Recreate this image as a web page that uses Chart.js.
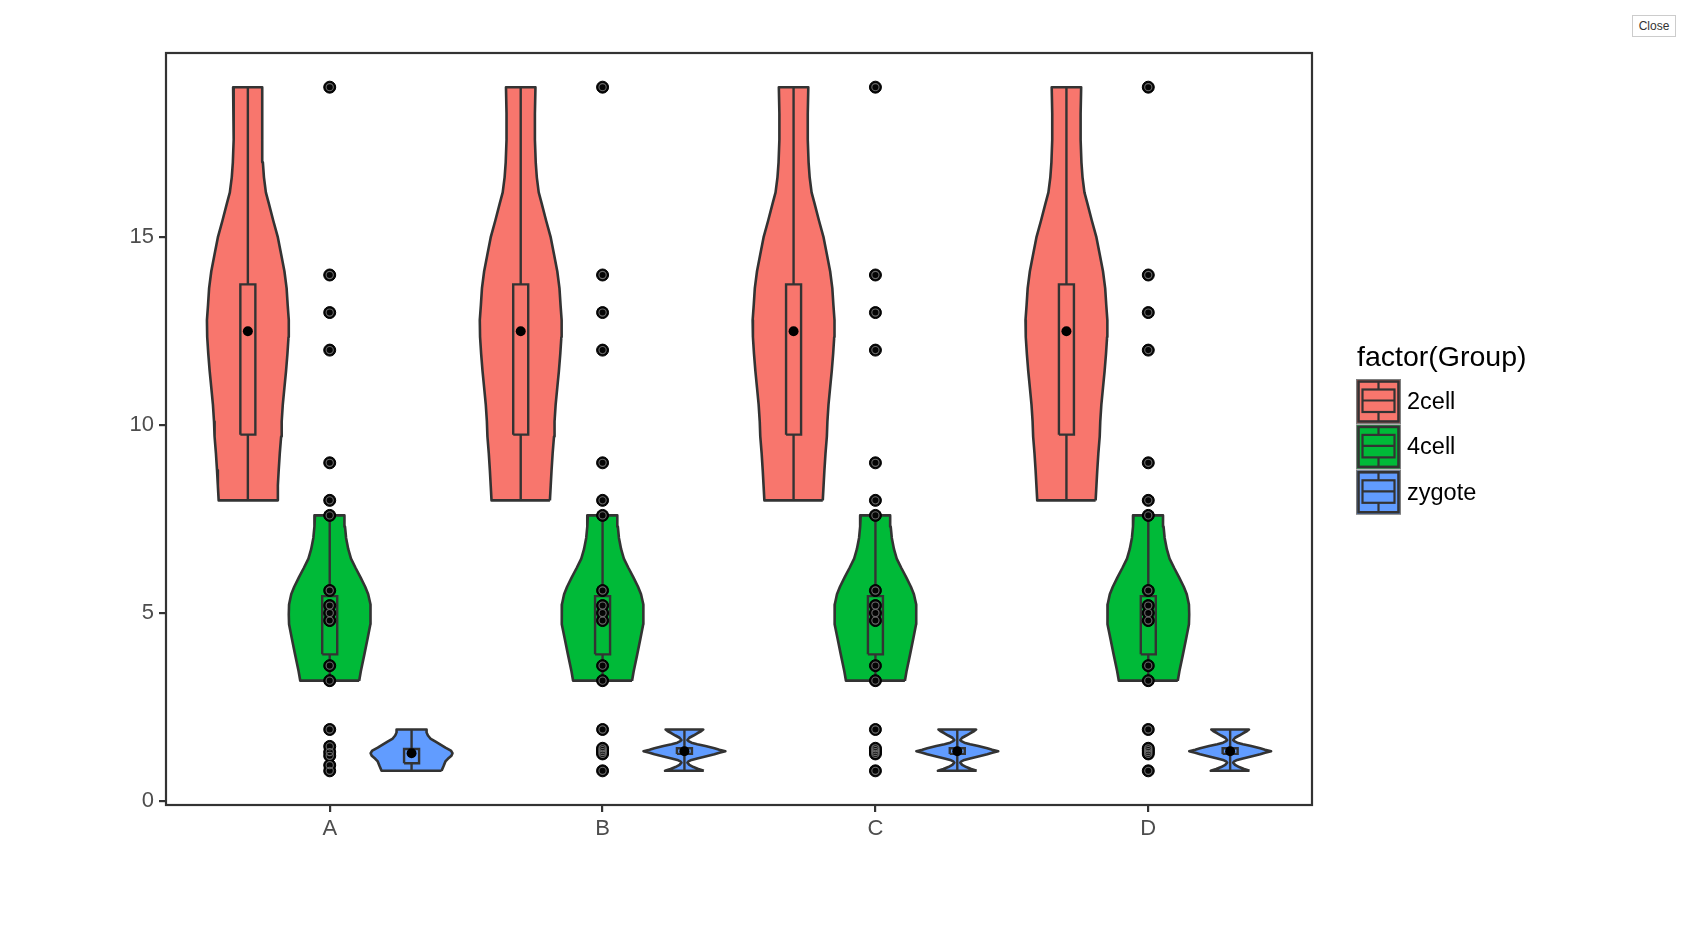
<!DOCTYPE html>
<html>
<head>
<meta charset="utf-8">
<title>factor(Group) violins</title>
<script src="https://cdn.jsdelivr.net/npm/chart.js@4.4.1/dist/chart.umd.min.js"></script>
<style>
  html, body { margin: 0; padding: 0; background: #fff; }
  #wrap { position: relative; width: 1691px; height: 948px; }
  #closeBtn {
    position: absolute; left: 1632px; top: 15px; width: 44px; height: 22px;
    font: 12px "Liberation Sans", Arial, sans-serif; color: #333;
    background: #fff; border: 1px solid #ccc; padding: 0;
  }
</style>
</head>
<body>
<div id="wrap">
  <canvas id="violin" width="1691" height="948"></canvas>
  <button id="closeBtn">Close</button>
</div>
<script>
const categories = ["A", "B", "C", "D"];
const groups = ["2cell", "4cell", "zygote"];
const groupColors = ["#F8766D", "#00BA38", "#619CFF"];
const groupOffsets = [-0.3, 0, 0.3];
const yTicks = [0, 5, 10, 15];

// raw observations (same for every category, except zygote at A)
const cell2Values = [8, 9, 12, 13, 14, 19];
const cell4Values = [3.2, 3.6, 4.8, 5.0, 5.2, 5.6, 7.6];
const zygoteValuesA = [0.8, 0.95, 1.2, 1.3, 1.45, 1.9];
const zygoteValuesBCD = [0.8, 1.25, 1.3, 1.35, 1.4, 1.9];

// violin outlines: y level -> half width (x units)
const cell2Levels = [8.0, 8.4, 8.8, 9.25, 9.7, 10.1, 10.55, 11.0, 11.45, 11.9, 12.35, 12.8, 13.2,
  13.65, 14.1, 14.55, 15.0, 15.45, 15.9, 16.2, 16.6, 17.0, 17.6, 18.3, 19.0];
const cell2Half = [0.107, 0.110, 0.113, 0.117, 0.122, 0.124, 0.128, 0.134, 0.140, 0.145, 0.149, 0.150, 0.146,
  0.142, 0.134, 0.122, 0.110, 0.093, 0.077, 0.066, 0.059, 0.055, 0.052, 0.052, 0.054];

const cell4Levels = [3.2, 3.45, 3.9, 4.33, 4.7, 4.96, 5.23, 5.5, 5.7, 5.95, 6.2, 6.45, 6.7, 7.0, 7.3, 7.6];
const cell4Half = [0.108, 0.114, 0.127, 0.139, 0.149, 0.150, 0.149, 0.141, 0.130, 0.113, 0.095, 0.078,
  0.068, 0.060, 0.056, 0.054];

const zygoteLevelsA = [0.8, 0.92, 1.05, 1.12, 1.2, 1.27, 1.34, 1.42, 1.5, 1.58, 1.66, 1.74, 1.82, 1.9];
const zygoteHalfA = [0.110, 0.117, 0.124, 0.133, 0.146, 0.150, 0.144, 0.124, 0.106, 0.088, 0.069, 0.060,
  0.055, 0.055];

const zygoteLevelsBCD = [0.8, 0.85, 0.9, 0.96, 1.02, 1.05, 1.09, 1.13, 1.18, 1.24, 1.28, 1.32, 1.36, 1.4,
  1.46, 1.51, 1.55, 1.59, 1.62, 1.68, 1.74, 1.8, 1.86, 1.9];
const zygoteHalfBCD = [0.071, 0.051, 0.033, 0.018, 0.011, 0.015, 0.026, 0.047, 0.077, 0.110, 0.128, 0.150,
  0.128, 0.110, 0.077, 0.047, 0.026, 0.015, 0.011, 0.018, 0.033, 0.047, 0.062, 0.069];

// box stats: [whisker low, q1, median, q3, whisker high, mean]
const cell2Box = [8, 9.75, 12.5, 13.75, 19, 12.5];
const cell4Box = [3.2, 3.9, 5.0, 5.45, 7.6, 5.0];
const zygoteBoxA = [0.8, 1.0, 1.25, 1.38, 1.9, 1.27];
const zygoteBoxBCD = [0.8, 1.25, 1.32, 1.4, 1.9, 1.32];

const boxHalf = 0.0275;
const outlineColor = "#333333";

function groupData(g, i) {
  if (g === 0) return { values: cell2Values, levels: cell2Levels, half: cell2Half, box: cell2Box };
  if (g === 1) return { values: cell4Values, levels: cell4Levels, half: cell4Half, box: cell4Box };
  if (i === 0) return { values: zygoteValuesA, levels: zygoteLevelsA, half: zygoteHalfA, box: zygoteBoxA };
  return { values: zygoteValuesBCD, levels: zygoteLevelsBCD, half: zygoteHalfBCD, box: zygoteBoxBCD };
}

function outline(center, levels, half) {
  const right = levels.map((y, k) => ({ x: center + half[k], y: y }));
  const left = levels.map((y, k) => ({ x: center - half[k], y: y })).reverse();
  return right.concat(left, [right[0]]);
}

const datasets = [];
const rawPoints = [];
const meanPoints = [];

categories.forEach((cat, i) => {
  groups.forEach((grp, g) => {
    const d = groupData(g, i);
    const c = i + 1 + groupOffsets[g];
    const [lo, q1, med, q3, hi, mean] = d.box;

    datasets.push({
      label: cat + " " + grp + " violin",
      showLine: true,
      data: outline(c, d.levels, d.half),
      fill: "shape",
      backgroundColor: groupColors[g],
      borderColor: outlineColor,
      borderWidth: 2.6,
      borderJoinStyle: "round",
      tension: 0,
      pointRadius: 0,
      order: 5
    });
    datasets.push({
      label: cat + " " + grp + " whisker",
      showLine: true,
      data: [{ x: c, y: lo }, { x: c, y: hi }],
      borderColor: outlineColor,
      borderWidth: 2.4,
      pointRadius: 0,
      order: 4
    });
    datasets.push({
      label: cat + " " + grp + " box",
      showLine: true,
      data: [
        { x: c - boxHalf, y: q1 }, { x: c + boxHalf, y: q1 },
        { x: c + boxHalf, y: q3 }, { x: c - boxHalf, y: q3 },
        { x: c - boxHalf, y: q1 }
      ],
      fill: "shape",
      backgroundColor: groupColors[g],
      borderColor: outlineColor,
      borderWidth: 2.4,
      borderJoinStyle: "miter",
      tension: 0,
      pointRadius: 0,
      order: 3
    });
    datasets.push({
      label: cat + " " + grp + " median",
      showLine: true,
      data: [{ x: c - boxHalf, y: med }, { x: c + boxHalf, y: med }],
      borderColor: outlineColor,
      borderWidth: 2.4,
      pointRadius: 0,
      order: 3
    });

    meanPoints.push({ x: c, y: mean });
    d.values.forEach(v => rawPoints.push({ x: i + 1, y: v }));
  });
});

datasets.push({
  label: "mean",
  data: meanPoints,
  pointRadius: 5,
  pointBackgroundColor: "#000",
  pointBorderColor: "#000",
  pointBorderWidth: 0,
  order: 2
});
datasets.push({
  label: "points",
  data: rawPoints,
  pointRadius: 6,
  pointBackgroundColor: "#050505",
  pointBorderColor: "#000",
  pointBorderWidth: 1,
  order: 1
});
datasets.push({
  label: "points ring",
  data: rawPoints,
  pointRadius: 3.6,
  pointBackgroundColor: "rgba(0,0,0,0)",
  pointBorderColor: "#6a6a6a",
  pointBorderWidth: 1.1,
  order: 0
});

const panelBorder = {
  id: "panelBorder",
  afterDatasetsDraw(chart) {
    const { ctx, chartArea: a } = chart;
    ctx.save();
    ctx.strokeStyle = outlineColor;
    ctx.lineWidth = 2.2;
    ctx.strokeRect(a.left, a.top, a.right - a.left, a.bottom - a.top);
    ctx.restore();
  }
};

const groupLegend = {
  id: "groupLegend",
  afterDraw(chart) {
    const ctx = chart.ctx;
    const x0 = chart.chartArea.right + 45;
    const key = 43;
    const step = 45.4;
    const top = 380;
    ctx.save();
    ctx.fillStyle = "#000";
    ctx.font = '28.5px "Liberation Sans", Arial, sans-serif';
    ctx.textBaseline = "alphabetic";
    ctx.fillText("factor(Group)", x0, 366);

    groups.forEach((grp, g) => {
      const y = top + g * step;
      ctx.fillStyle = "#7f7f7f";
      ctx.fillRect(x0 - 1, y - 1, key + 2, key + 2);
      ctx.fillStyle = groupColors[g];
      ctx.fillRect(x0, y, key, key);
      ctx.strokeStyle = outlineColor;
      ctx.lineWidth = 2.6;
      ctx.strokeRect(x0 + 1.5, y + 1.5, key - 3, key - 3);
      // boxplot glyph
      const cx = x0 + key / 2;
      ctx.lineWidth = 2.2;
      ctx.beginPath();
      ctx.moveTo(cx, y + 2); ctx.lineTo(cx, y + 9.5);
      ctx.moveTo(cx, y + 32); ctx.lineTo(cx, y + key - 2);
      ctx.stroke();
      ctx.fillStyle = groupColors[g];
      ctx.fillRect(x0 + 5.5, y + 9.5, key - 11, 22.5);
      ctx.strokeRect(x0 + 5.5, y + 9.5, key - 11, 22.5);
      ctx.beginPath();
      ctx.moveTo(x0 + 5.5, y + 20.5); ctx.lineTo(x0 + key - 5.5, y + 20.5);
      ctx.stroke();

      ctx.fillStyle = "#000";
      ctx.font = '23.5px "Liberation Sans", Arial, sans-serif';
      ctx.textBaseline = "middle";
      ctx.fillText(grp, x0 + 50, y + key / 2 + 1);
    });
    ctx.restore();
  }
};

Chart.defaults.font.family = '"Liberation Sans", Arial, sans-serif';

new Chart(document.getElementById("violin"), {
  type: "scatter",
  data: { datasets: datasets },
  options: {
    responsive: false,
    animation: false,
    events: [],
    layout: { padding: { left: 0, top: 53, right: 379, bottom: 93 } },
    plugins: {
      legend: { display: false },
      tooltip: { enabled: false }
    },
    scales: {
      x: {
        type: "linear",
        min: 0.4,
        max: 4.6,
        afterBuildTicks: (scale) => {
          scale.ticks = categories.map((c, i) => ({ value: i + 1 }));
        },
        afterFit: (scale) => { scale.height = 50; },
        ticks: {
          callback: (v) => categories[v - 1],
          color: "#4D4D4D",
          font: { size: 22 },
          padding: 4,
          autoSkip: false,
          maxRotation: 0
        },
        grid: { drawOnChartArea: false, drawTicks: true, tickLength: 7, color: outlineColor, lineWidth: 2.2 },
        border: { display: false }
      },
      y: {
        type: "linear",
        min: -0.11,
        max: 19.91,
        afterBuildTicks: (scale) => {
          scale.ticks = yTicks.map(v => ({ value: v }));
        },
        afterFit: (scale) => { scale.width = 166; },
        ticks: {
          color: "#4D4D4D",
          font: { size: 22 },
          padding: 5
        },
        grid: { drawOnChartArea: false, drawTicks: true, tickLength: 7, color: outlineColor, lineWidth: 2.2 },
        border: { display: false }
      }
    }
  },
  plugins: [panelBorder, groupLegend]
});
</script>
</body>
</html>
